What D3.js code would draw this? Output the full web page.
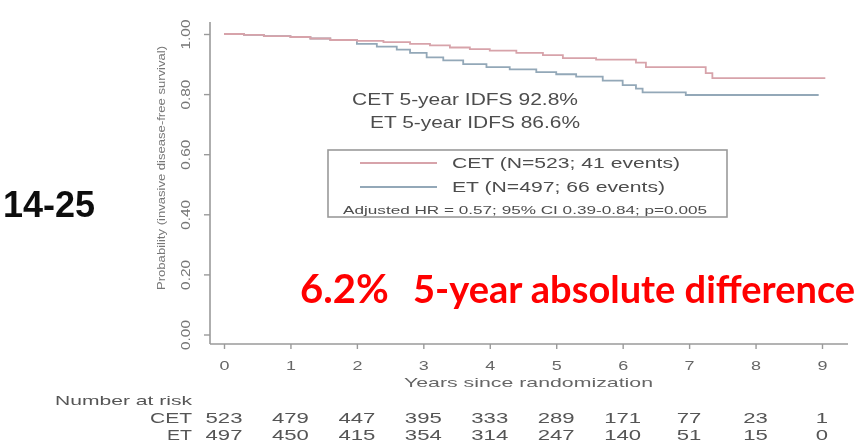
<!DOCTYPE html>
<html>
<head>
<meta charset="utf-8">
<script src="https://cdn.jsdelivr.net/npm/d3@7"></script>
<style>
  html, body { margin: 0; padding: 0; background: #fff; }
  svg { display: block; }
</style>
</head>
<body>
<svg id="chart" width="861" height="443"></svg>
<script>
// Kaplan-Meier step points: time in years, invasive disease-free survival
const cetTime = [0, 0.3, 0.6, 1.0, 1.3, 1.6, 2.0, 2.4, 2.8, 3.1, 3.4, 3.7, 4.0, 4.4, 4.8, 5.1, 5.6, 6.2, 6.35, 7.25, 7.35, 9.05];
const cetSurv = [1.0, 0.997, 0.993, 0.99, 0.985, 0.98, 0.977, 0.973, 0.967, 0.962, 0.955, 0.95, 0.945, 0.937, 0.93, 0.92, 0.915, 0.905, 0.89, 0.87, 0.853, 0.853];
const etTime = [0, 0.3, 0.6, 1.0, 1.3, 1.6, 2.0, 2.3, 2.6, 2.8, 3.05, 3.3, 3.6, 3.95, 4.3, 4.7, 5.0, 5.3, 5.7, 6.0, 6.2, 6.3, 6.95, 8.95];
const etSurv = [1.0, 0.997, 0.993, 0.99, 0.985, 0.98, 0.967, 0.958, 0.948, 0.937, 0.922, 0.912, 0.9, 0.89, 0.882, 0.873, 0.866, 0.858, 0.845, 0.83, 0.818, 0.806, 0.797, 0.797];

const yearTicks = [0, 1, 2, 3, 4, 5, 6, 7, 8, 9];
const survTicks = [0, 0.2, 0.4, 0.6, 0.8, 1.0];
const riskCET = [523, 479, 447, 395, 333, 289, 171, 77, 23, 1];
const riskET = [497, 450, 415, 354, 314, 247, 140, 51, 15, 0];

const legendLabels = ["CET (N=523; 41 events)", "ET (N=497; 66 events)"];
const hrText = "Adjusted HR = 0.57; 95% CI 0.39-0.84; p=0.005";
const fiveYear = ["CET 5-year IDFS 92.8%", "ET 5-year IDFS 86.6%"];
const headline = ["6.2%", "5-year absolute difference"];

const cetColor = "#d7a3aa";
const etColor = "#93a8b8";
const axisColor = "#9a9a9a";
const textColor = "#4d4d4d";
const FONT = "Liberation Sans, Arial, sans-serif";

const svg = d3.select("#chart");

svg.append("defs").append("filter").attr("id", "soft")
  .append("feGaussianBlur").attr("stdDeviation", 0.75);

const x = d3.scaleLinear().domain([0, 9]).range([224, 822]);
const y = d3.scaleLinear().domain([0, 1]).range([334.5, 34]);

const g = svg.append("g").attr("filter", "url(#soft)");

// text helper: the figure's lettering is wide, so each label is fitted to its width
function label(parent, px, py, str, size, width, anchor, fill) {
  const t = parent.append("text")
    .attr("x", px).attr("y", py)
    .attr("text-anchor", anchor || "start")
    .attr("fill", fill || textColor)
    .attr("font-family", FONT).attr("font-size", size)
    .text(str);
  if (width) t.attr("textLength", width).attr("lengthAdjust", "spacingAndGlyphs");
  return t;
}

// axes frame
const axisX0 = 210, axisY0 = 344;
g.append("line").attr("x1", axisX0).attr("x2", axisX0).attr("y1", 22).attr("y2", axisY0)
  .attr("stroke", axisColor).attr("stroke-width", 1.6);
g.append("line").attr("x1", axisX0).attr("x2", 848).attr("y1", axisY0).attr("y2", axisY0)
  .attr("stroke", axisColor).attr("stroke-width", 1.6);

// y axis
const yAxis = d3.axisLeft(y).tickValues(survTicks).tickFormat(d3.format(".2f")).tickSize(6);
const yg = g.append("g").attr("transform", `translate(${axisX0},0)`).call(yAxis);
yg.select(".domain").remove();
yg.selectAll(".tick line").attr("stroke", axisColor).attr("stroke-width", 1.4);
yg.selectAll(".tick text").remove();
yg.selectAll(".tick").each(function (d) {
  d3.select(this).append("text")
    .attr("transform", "translate(-20,0) rotate(-90)")
    .attr("text-anchor", "middle")
    .attr("fill", "#777").attr("font-family", FONT).attr("font-size", 13)
    .attr("textLength", 30).attr("lengthAdjust", "spacingAndGlyphs")
    .text(d3.format(".2f")(d));
});

// x axis
const xAxis = d3.axisBottom(x).tickValues(yearTicks).tickSize(5);
const xg = g.append("g").attr("transform", `translate(0,${axisY0})`).call(xAxis);
xg.select(".domain").remove();
xg.selectAll(".tick line").attr("stroke", axisColor).attr("stroke-width", 1.4);
xg.selectAll(".tick text").remove();
xg.selectAll(".tick").each(function (d) {
  label(d3.select(this), 0, 26, d3.format("d")(d), 13.5, 10, "middle", "#666");
});

label(g, 404, 387, "Years since randomization", 13.5, 249, "start", "#666");

g.append("text").attr("transform", "translate(165,168) rotate(-90)").attr("text-anchor", "middle")
  .attr("fill", "#777").attr("font-family", FONT).attr("font-size", 11.5)
  .attr("textLength", 244).attr("lengthAdjust", "spacingAndGlyphs")
  .text("Probability (invasive disease-free survival)");

// survival curves
const line = d3.line().x(d => x(d[0])).y(d => y(d[1])).curve(d3.curveStepAfter);
const cetPts = cetTime.map((t, i) => [t, cetSurv[i]]);
const etPts = etTime.map((t, i) => [t, etSurv[i]]);
g.append("path").attr("d", line(etPts)).attr("fill", "none").attr("stroke", etColor).attr("stroke-width", 1.8);
g.append("path").attr("d", line(cetPts)).attr("fill", "none").attr("stroke", cetColor).attr("stroke-width", 1.8);

// 5-year annotations
label(g, 352, 105, fiveYear[0], 16.5, 226);
label(g, 370, 128, fiveYear[1], 16.5, 210);

// legend
g.append("rect").attr("x", 328).attr("y", 150).attr("width", 399).attr("height", 67)
  .attr("fill", "#fff").attr("stroke", "#9a9a9a").attr("stroke-width", 1.6);
[[cetColor, 163, 228], [etColor, 187, 213]].forEach(([c, yy, w], i) => {
  g.append("line").attr("x1", 360).attr("x2", 437).attr("y1", yy).attr("y2", yy)
    .attr("stroke", c).attr("stroke-width", 1.8);
  label(g, 452, yy + 5, legendLabels[i], 14, w);
});
label(g, 343, 214, hrText, 10.5, 364);

// number at risk table
label(g, 55, 405, "Number at risk", 13, 137, "start", "#555");
[["CET", riskCET, 423, 42], ["ET", riskET, 440, 25]].forEach(([lab, vals, yy, w]) => {
  label(g, 192, yy, lab, 14, w, "end", "#555");
  vals.forEach((v, i) => {
    label(g, x(yearTicks[i]), yy, String(v), 14, 12.3 * String(v).length, "middle", "#555");
  });
});

// side label and headline
svg.append("text").attr("x", 95).attr("y", 217).attr("text-anchor", "end")
  .attr("fill", "#111").attr("font-family", FONT)
  .attr("font-size", 36).attr("font-weight", "bold").attr("filter", "url(#soft)")
  .text("14-25");

svg.append("text").attr("x", 300).attr("y", 303)
  .attr("fill", "#f00").attr("font-family", "Lato, sans-serif")
  .attr("font-size", 40).attr("font-weight", "bold")
  .text(headline[0]);
svg.append("text").attr("x", 413).attr("y", 303)
  .attr("fill", "#f00").attr("font-family", "Lato, sans-serif")
  .attr("font-size", 38).attr("font-weight", "bold")
  .text(headline[1]);
</script>
</body>
</html>
